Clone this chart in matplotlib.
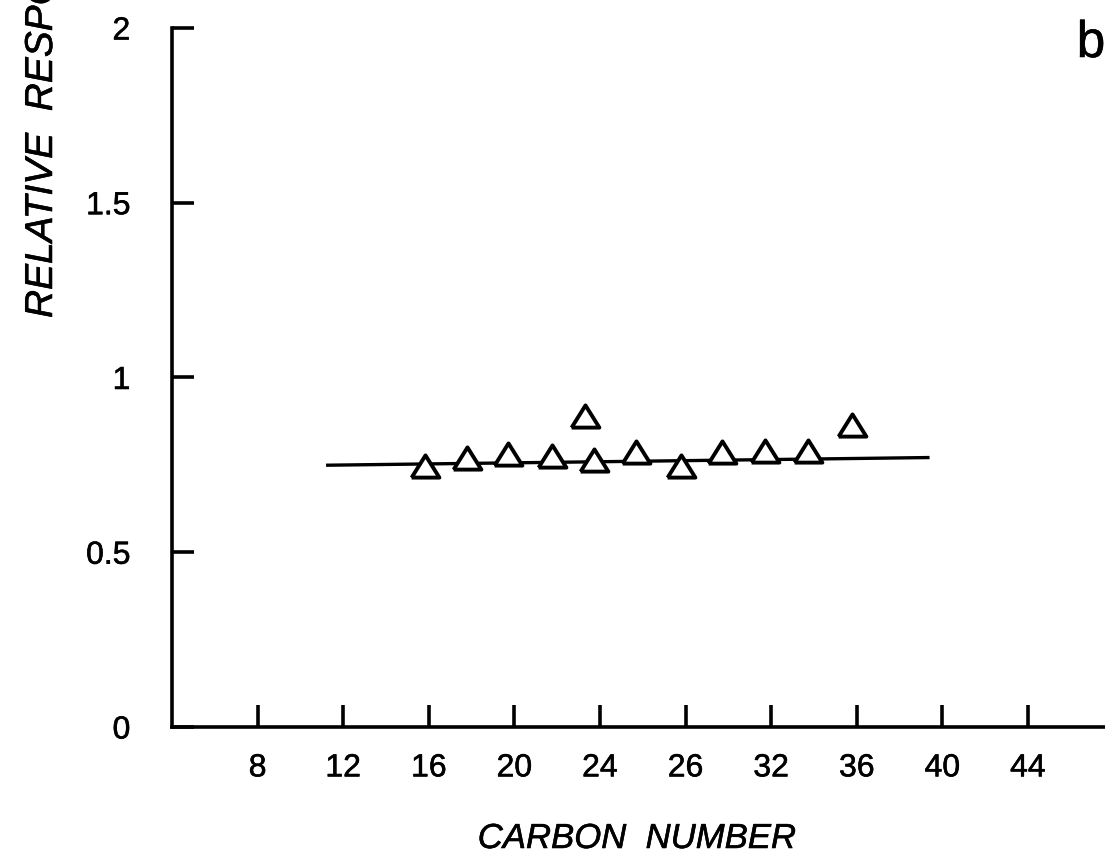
import numpy as np
import matplotlib
matplotlib.use('Agg')
from matplotlib import pyplot as plt
import matplotlib.patheffects as path_effects

# carbon number vs. relative response, panel b
carbon = [15.8, 17.8, 19.7, 21.75, 23.3, 23.7, 25.7, 27.8, 29.7, 31.7, 33.7, 35.8]
response = [0.746, 0.771, 0.780, 0.774, 0.891, 0.763, 0.786, 0.746, 0.786, 0.791, 0.789, 0.863]

fit_x = [11.2, 39.4]
fit_y = [0.749, 0.771]

xtick_pos = [8, 12, 16, 20, 24, 28, 32, 36, 40, 44]
xtick_labels = ['8', '12', '16', '20', '24', '26', '32', '36', '40', '44']
ytick_pos = [0, 0.5, 1, 1.5, 2]
ytick_labels = ['0', '0.5', '1', '1.5', '2']

plt.rcParams['font.family'] = ['Liberation Sans', 'DejaVu Sans']

fig = plt.figure(figsize=(11.05, 8.59), dpi=100)
ax = fig.add_axes([172/1105, 132/859, 933/1105, 699/859])

# open triangle, a bit wider than tall
tri = [(-1, -0.8), (1, -0.8), (0, 0.8), (-1, -0.8)]

ax.plot(fit_x, fit_y, color='black', lw=2.4, solid_capstyle='butt', zorder=2)
ax.plot(carbon, response, linestyle='none', marker=tri, markersize=20,
        markerfacecolor='white', markeredgecolor='black', markeredgewidth=2.8,
        zorder=3)

ax.set_xlim(4, 47.6)
ax.set_ylim(0, 2)
for side in ['top', 'right']:
  ax.spines[side].set_visible(False)
for side in ['left', 'bottom']:
  ax.spines[side].set_linewidth(2.6)

ax.set_xticks(xtick_pos)
ax.set_xticklabels(xtick_labels)
ax.set_yticks(ytick_pos)
ax.set_yticklabels(ytick_labels)
ax.tick_params(axis='both', direction='in', length=16, width=2.6, labelsize=23)
ax.tick_params(axis='x', pad=19)
ax.tick_params(axis='y', pad=30)

# thicken the lettering slightly
heavy = [path_effects.Stroke(linewidth=0.4, foreground='black'), path_effects.Normal()]
for lbl in ax.get_xticklabels() + ax.get_yticklabels():
  lbl.set_path_effects(heavy)

t1 = fig.text(637/1105, 1 - 848/859, 'CARBON  NUMBER', ha='center', va='baseline',
              fontsize=25, style='italic')
t2 = fig.text(42/1105, 1 - 318/859, 'RELATIVE  RESPONSE', ha='center', va='bottom',
              rotation=90, fontsize=28, style='italic')
t3 = fig.text(1091/1105, 1 - 57/859, 'b', ha='center', va='baseline', fontsize=37)
for t in (t1, t2, t3):
  t.set_path_effects(heavy)

fig.savefig('out.png', dpi=100)
